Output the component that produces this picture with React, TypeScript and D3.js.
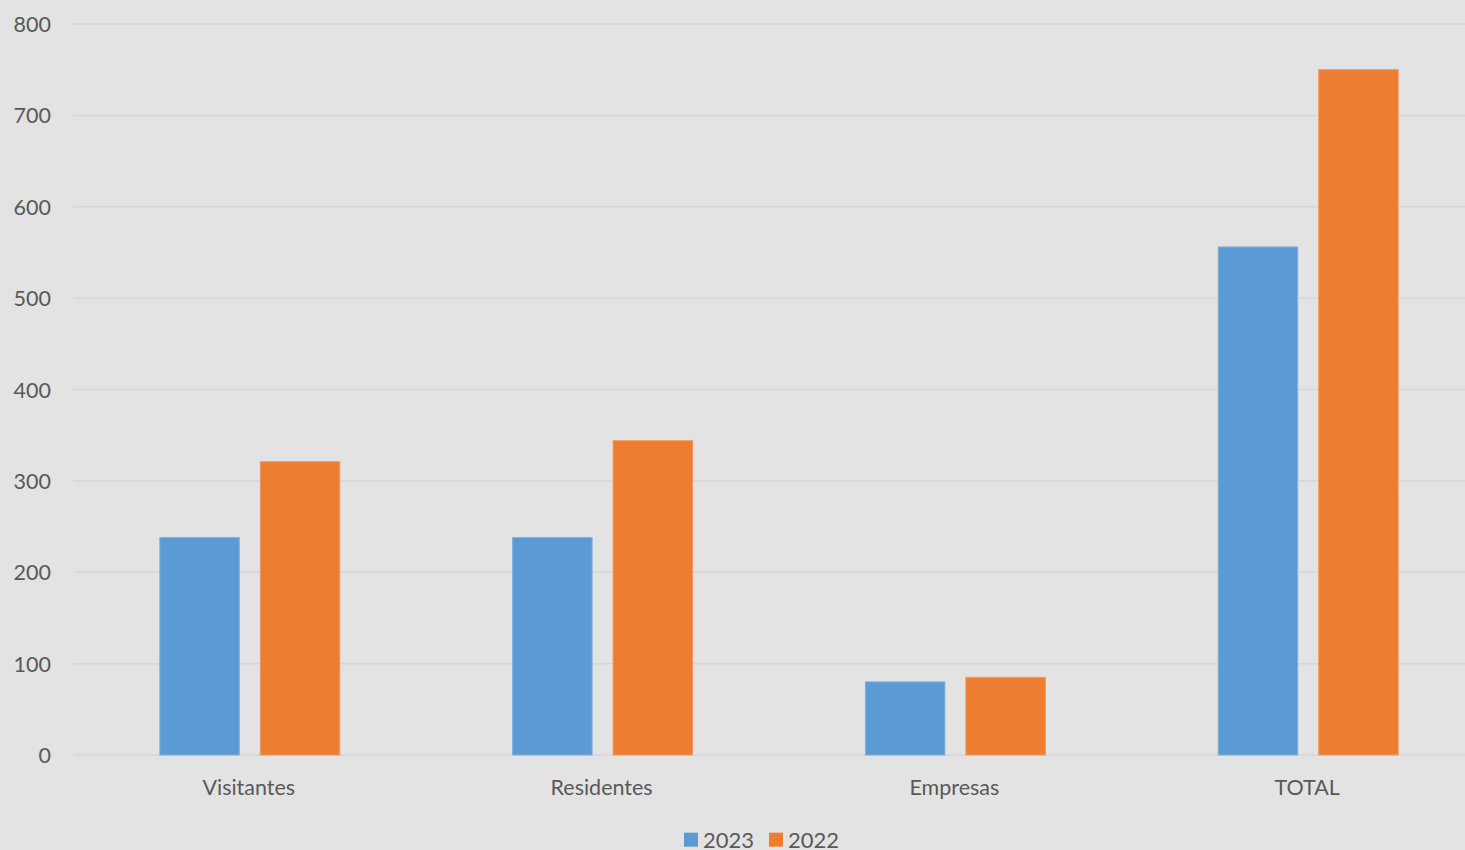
import React from "react";
import * as d3 from "d3";

const categories = ["Visitantes", "Residentes", "Empresas", "TOTAL"];
const seriesNames = ["2023", "2022"];
const values2023 = [238, 238, 80, 556];
const values2022 = [321, 344, 85, 750];
const yTicks = [0, 100, 200, 300, 400, 500, 600, 700, 800];
const colors = ["#5b9bd5", "#ed7d31"];

const W = 1465;
const H = 850;

export default function App() {
  const x0 = d3.scaleBand<string>().domain(categories).range([73.4, 1484.6]).padding(0);
  const x1 = d3
    .scaleBand<string>()
    .domain(seriesNames)
    .range([0, x0.bandwidth()])
    .paddingInner(0.209)
    .paddingOuter(0.86);
  const y = d3.scaleLinear().domain([0, 800]).range([755, 24]);
  const series = [values2023, values2022];
  const font = "Lato, 'Open Sans', sans-serif";

  return (
    <div style={{ position: "fixed", left: 0, top: 0 }}>
      <svg width={W} height={H} style={{ display: "block" }}>
        <rect x={0} y={0} width={W} height={H} fill="#e3e3e3" />
        {yTicks.map((t) => (
          <g key={t}>
            <line x1={73.4} x2={W} y1={y(t)} y2={y(t)} stroke="#d6d6d6" strokeWidth={1.5} />
            <text
              x={51}
              y={y(t)}
              textAnchor="end"
              dominantBaseline="central"
              fontFamily={font}
              fontSize={21.5}
              fill="#595959"
            >
              {t}
            </text>
          </g>
        ))}
        {categories.map((c, i) => (
          <g key={c} transform={`translate(${x0(c)},0)`}>
            {seriesNames.map((s, j) => (
              <rect
                key={s}
                x={x1(s)}
                y={y(series[j][i])}
                width={x1.bandwidth()}
                height={y(0) - y(series[j][i])}
                fill={colors[j]}
                stroke={j === 0 ? "#7fb0de" : "#f09a62"}
                strokeWidth={1}
              />
            ))}
            <text
              x={x0.bandwidth() / 2 - 1}
              y={787}
              textAnchor="middle"
              dominantBaseline="central"
              fontFamily={font}
              fontSize={21.5}
              fill="#595959"
            >
              {c}
            </text>
          </g>
        ))}
        {seriesNames.map((s, j) => {
          const lx = [684, 769][j];
          return (
            <g key={s}>
              <rect x={lx} y={832.7} width={14} height={14} fill={colors[j]} />
              <text
                x={lx + 19}
                y={839.5}
                dominantBaseline="central"
                fontFamily={font}
                fontSize={22}
                fill="#595959"
              >
                {s}
              </text>
            </g>
          );
        })}
      </svg>
    </div>
  );
}
